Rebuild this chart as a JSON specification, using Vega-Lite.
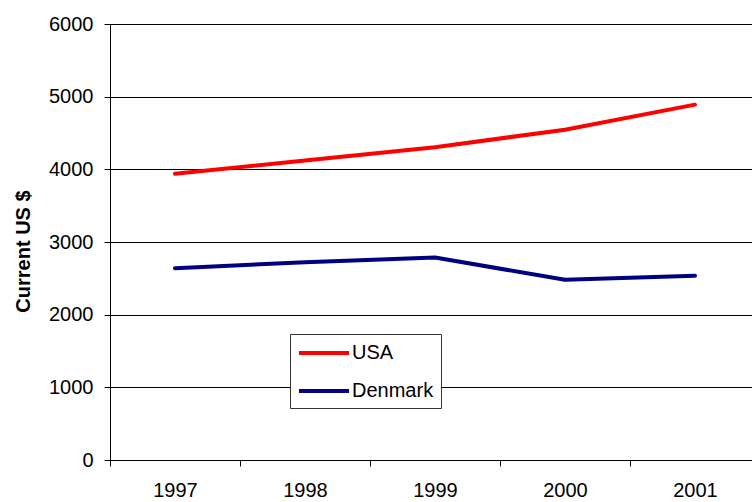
{
  "$schema": "https://vega.github.io/schema/vega-lite/v6.json",
  "width": 642,
  "height": 436,
  "autosize": {"type": "none"},
  "padding": {"left": 110, "top": 24, "right": 0, "bottom": 42},
  "config": {
    "view": {"stroke": null},
    "font": "Liberation Sans",
    "axis": {
      "labelFont": "Liberation Sans",
      "labelFontSize": 20,
      "labelColor": "black",
      "domainColor": "black",
      "domainWidth": 1,
      "tickColor": "black",
      "tickSize": 6,
      "tickWidth": 1,
      "gridColor": "black",
      "gridWidth": 1,
      "gridOpacity": 1
    }
  },
  "data": {
    "values": [
      {"year": 1997, "country": "USA", "value": 3940},
      {"year": 1998, "country": "USA", "value": 4120},
      {"year": 1999, "country": "USA", "value": 4305},
      {"year": 2000, "country": "USA", "value": 4545},
      {"year": 2001, "country": "USA", "value": 4890},
      {"year": 1997, "country": "Denmark", "value": 2640},
      {"year": 1998, "country": "Denmark", "value": 2722},
      {"year": 1999, "country": "Denmark", "value": 2787},
      {"year": 2000, "country": "Denmark", "value": 2480},
      {"year": 2001, "country": "Denmark", "value": 2537}
    ]
  },
  "mark": {"type": "line", "strokeWidth": 4, "strokeCap": "round", "strokeJoin": "round"},
  "encoding": {
    "x": {
      "field": "year",
      "type": "quantitative",
      "scale": {"domain": [1996.5, 2001.4385], "nice": false, "zero": false},
      "axis": {
        "title": null,
        "grid": false,
        "values": [1996.5, 1997, 1997.5, 1998, 1998.5, 1999, 1999.5, 2000, 2000.5, 2001],
        "labelExpr": "datum.value % 1 == 0 ? format(datum.value, 'd') : ''",
        "tickOpacity": {"condition": {"test": "datum.value % 1 == 0", "value": 0}, "value": 1},
        "labelPadding": 14,
        "labelFlush": false,
        "labelOverlap": false
      }
    },
    "y": {
      "field": "value",
      "type": "quantitative",
      "scale": {"domain": [0, 6000], "nice": false},
      "axis": {
        "title": "Current US $",
        "titleFont": "Liberation Sans",
        "titleFontSize": 20,
        "titleFontWeight": "bold",
        "titleColor": "black",
        "titlePadding": 15,
        "titleY": 227,
        "values": [0, 1000, 2000, 3000, 4000, 5000, 6000],
        "format": "d",
        "labelPadding": 11,
        "grid": true
      }
    },
    "color": {
      "field": "country",
      "type": "nominal",
      "scale": {"domain": ["USA", "Denmark"], "range": ["#FF0000", "#000080"]},
      "legend": {
        "title": null,
        "orient": "none",
        "legendX": 180,
        "legendY": 310,
        "symbolType": "M-1,0H4",
        "symbolSize": 400,
        "symbolStrokeWidth": 4,
        "symbolFillColor": "transparent",
        "labelFont": "Liberation Sans",
        "labelFontSize": 20,
        "labelColor": "black",
        "labelOffset": 31,
        "strokeColor": "#333333",
        "fillColor": "white",
        "padding": 7,
        "rowPadding": 16
      }
    }
  }
}
